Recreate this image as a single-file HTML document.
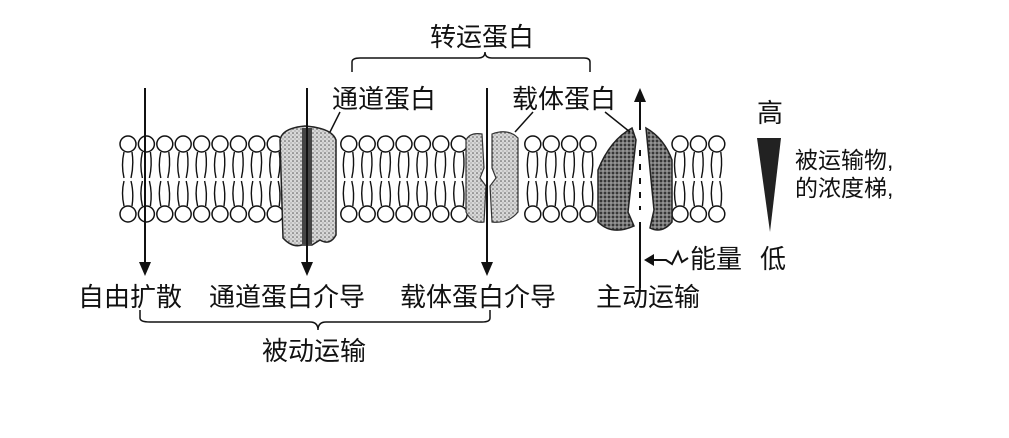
<!DOCTYPE html>
<html><head><meta charset="utf-8"><style>
html,body{margin:0;padding:0;background:#fff;}
svg{display:block}
text{font-family:"Liberation Sans","Noto Sans CJK SC",sans-serif;fill:#111;}
</style></head><body>
<svg id="s" width="1009" height="438" viewBox="0 0 1009 438" xmlns="http://www.w3.org/2000/svg">
<defs>
<pattern id="dots" width="4" height="4" patternUnits="userSpaceOnUse">
<rect width="4" height="4" fill="#d8d8d8"/><circle cx="1" cy="1" r="0.8" fill="#555"/><circle cx="3" cy="3" r="0.6" fill="#888"/>
</pattern>
<pattern id="dark" width="4" height="4" patternUnits="userSpaceOnUse">
<rect width="4" height="4" fill="#777"/><circle cx="1" cy="1" r="1" fill="#222"/><circle cx="3" cy="3" r="0.7" fill="#bbb"/>
</pattern>
</defs>
<g id="mem"></g>
<!-- channel protein -->
<path d="M280 140 Q282 128 305 126 Q332 128 336 140 L336 235 Q330 246 320 240 L312 245 L302 245 Q292 248 283 238 Z" fill="url(#dots)" stroke="#222" stroke-width="1.5"/>
<rect x="302" y="128" width="10" height="116" fill="#444"/>
<!-- carrier protein -->
<path d="M466 140 Q470 132 482 134 L484 168 L480 178 L486 186 L484 222 Q472 224 466 212 Z" fill="url(#dots)" stroke="#333" stroke-width="1.2"/>
<path d="M492 134 Q508 128 518 138 L518 212 Q508 224 492 222 L490 186 L496 178 L492 168 Z" fill="url(#dots)" stroke="#333" stroke-width="1.2"/>
<!-- active protein -->
<path d="M598 170 Q610 140 632 128 L636 140 L628 212 L634 226 Q612 236 598 222 Z" fill="url(#dark)" stroke="#222" stroke-width="1.5"/>
<path d="M646 128 Q664 138 672 160 L672 222 Q662 234 650 228 L654 210 Z" fill="url(#dark)" stroke="#222" stroke-width="1.5"/>
<!-- arrows -->
<g stroke="#111" stroke-width="2" fill="none">
<line x1="145" y1="88" x2="145" y2="268"/>
<line x1="307" y1="88" x2="307" y2="268"/>
<line x1="487" y1="88" x2="487" y2="268"/>
<line x1="640" y1="288" x2="640" y2="222"/>
<line x1="640" y1="130" x2="640" y2="98"/>
<line x1="640" y1="150" x2="640" y2="210" stroke-dasharray="6 8"/>
<path d="M352 72 L352 62 Q352 58 360 58 L478 58 Q485 58 485 52 Q485 58 492 58 L584 58 Q590 58 590 62 L590 72" stroke-width="1.5"/>
<path d="M140 310 L140 318 Q140 322 150 322 L310 322 Q318 322 318 330 Q318 322 326 322 L482 322 Q490 322 490 318 L490 310" stroke-width="1.5"/>
<line x1="340" y1="112" x2="330" y2="132" stroke-width="1.5"/>
<line x1="533" y1="112" x2="515" y2="132" stroke-width="1.5"/>
<line x1="605" y1="112" x2="630" y2="132" stroke-width="1.5"/>
<path d="M688 258 L682 262 L678 252 L672 264 L666 260 L648 260" stroke-width="2"/>
</g>
<g fill="#111">
<polygon points="139,262 151,262 145,276"/>
<polygon points="301,262 313,262 307,276"/>
<polygon points="481,262 493,262 487,276"/>
<polygon points="634,102 646,102 640,88"/>
<polygon points="654,254 654,266 644,260"/>
<polygon points="757,138 781,138 770,232" fill="#222"/>
</g>
<g font-size="26">
<text x="430" y="46">转运蛋白</text>
<text x="332" y="108">通道蛋白</text>
<text x="512" y="108">载体蛋白</text>
<text x="757" y="122">高</text>
<text x="795" y="168" font-size="23">被运输物,</text>
<text x="795" y="196" font-size="23">的浓度梯,</text>
<text x="690" y="268">能量</text>
<text x="760" y="268">低</text>
<text x="78" y="306">自由扩散</text>
<text x="209" y="306">通道蛋白介导</text>
<text x="400" y="306">载体蛋白介导</text>
<text x="596" y="306">主动运输</text>
<text x="262" y="360">被动运输</text>
</g>
</svg>
<script>
var g=document.getElementById('mem'),h='';
function inP(x){return (x>276&&x<340)||(x>462&&x<522)||(x>594&&x<676);}
for(var x=128;x<=735;x+=18.4){
 if(inP(x))continue;
 h+='<circle cx="'+x+'" cy="144" r="8" fill="#fff" stroke="#111" stroke-width="1.5"/>';
 h+='<circle cx="'+x+'" cy="214" r="8" fill="#fff" stroke="#111" stroke-width="1.5"/>';
 h+='<path d="M'+(x-4)+' 152 Q'+(x-7)+' 165 '+(x-4)+' 178 M'+(x+4)+' 152 Q'+(x+6)+' 165 '+(x+3)+' 178 M'+(x-4)+' 206 Q'+(x-7)+' 193 '+(x-4)+' 181 M'+(x+4)+' 206 Q'+(x+6)+' 193 '+(x+3)+' 181" stroke="#111" stroke-width="1.4" fill="none"/>';
}
g.innerHTML=h;
</script>
</body></html>
